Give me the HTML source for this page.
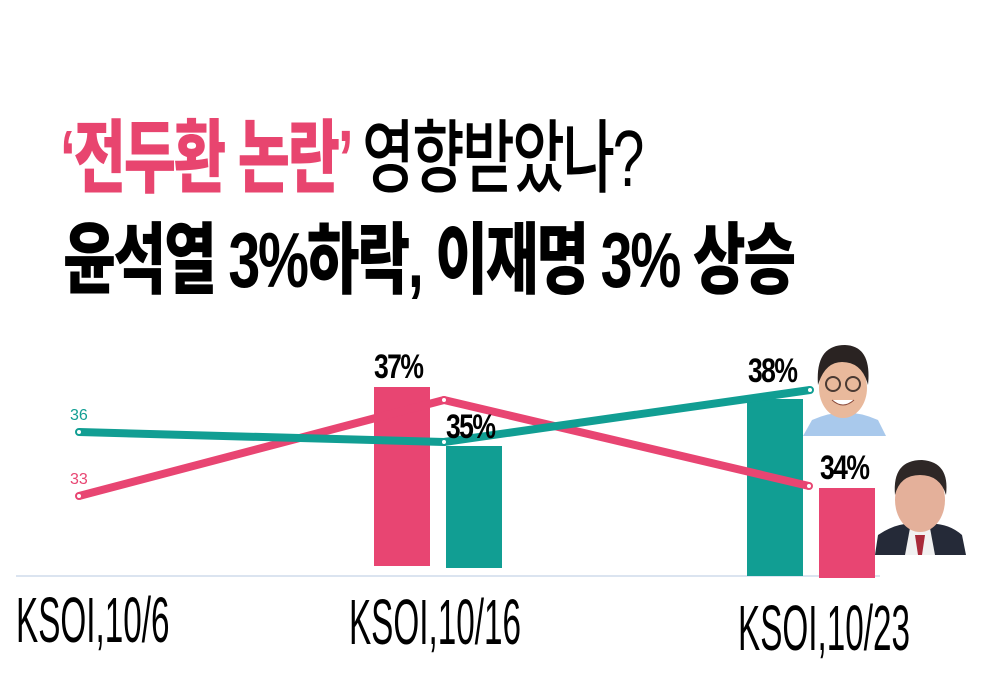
<!DOCTYPE html>
<html><head><meta charset="utf-8"><style>
body{margin:0;width:1000px;height:692px;background:#fff;overflow:hidden;position:relative;font-family:"Liberation Sans","Noto Sans CJK KR",sans-serif}
.t{position:absolute;white-space:nowrap;transform-origin:0 0}
</style></head><body>
<div class="t" style="left:60px;top:94px;font-size:80px;font-weight:900;letter-spacing:-3px;transform:scaleX(0.71)"><span style="color:#e8456f">‘전두환 논란’</span> <span style="font-weight:500">영향받았나?</span></div>
<div class="t" style="left:63px;top:198px;font-size:78px;font-weight:900;letter-spacing:-3px;transform:scaleX(0.735)">윤석열 3%하락, 이재명 3% 상승</div>
<svg width="1000" height="692" style="position:absolute;left:0;top:0">
<line x1="16" y1="576" x2="880" y2="576" stroke="#dbe4f0" stroke-width="2"/>
<rect x="374" y="387" width="56" height="179" fill="#e84572"/>
<rect x="446" y="446" width="56" height="122" fill="#119e93"/>
<rect x="747" y="399" width="56" height="177" fill="#119e93"/>
<rect x="819" y="488" width="56" height="90" fill="#e84572"/>
<polyline points="79,496 444,400 809,486" fill="none" stroke="#e84572" stroke-width="8" stroke-linejoin="round"/>
<polyline points="79,432 444,442 810,390" fill="none" stroke="#119e93" stroke-width="8" stroke-linejoin="round"/>
<g fill="#fff" stroke-width="2"><circle cx="79" cy="496" r="3" stroke="#e84572"/><circle cx="444" cy="400" r="3" stroke="#e84572"/><circle cx="809" cy="486" r="3" stroke="#e84572"/>
<circle cx="79" cy="432" r="3" stroke="#119e93"/><circle cx="444" cy="442" r="3" stroke="#119e93"/><circle cx="810" cy="390" r="3" stroke="#119e93"/></g>
<text x="70" y="420" font-size="16" fill="#119e93" font-family="Liberation Sans">36</text>
<text x="70" y="484" font-size="16" fill="#e84572" font-family="Liberation Sans">33</text>
<g font-family="Liberation Sans" font-weight="bold" font-size="34" letter-spacing="-2">
<text x="374" y="378" transform="translate(374 0) scale(0.78 1) translate(-374 0)">37%</text>
<text x="446" y="438" transform="translate(446 0) scale(0.78 1) translate(-446 0)">35%</text>
<text x="748" y="382" transform="translate(748 0) scale(0.78 1) translate(-748 0)">38%</text>
<text x="820" y="479" transform="translate(820 0) scale(0.78 1) translate(-820 0)">34%</text>
</g>
<g font-family="Liberation Sans" font-size="64">
<text x="16" y="642" transform="translate(16 0) scale(0.52 1) translate(-16 0)">KSOI,10/6</text>
<text x="349" y="644" transform="translate(349 0) scale(0.52 1) translate(-349 0)">KSOI,10/16</text>
<text x="738" y="650" transform="translate(738 0) scale(0.52 1) translate(-738 0)">KSOI,10/23</text>
</g>
<path d="M803 436 L812 420 Q845 405 878 420 L886 436 Z" fill="#a9c9ec"/>
<ellipse cx="843" cy="388" rx="24" ry="30" fill="#e9b99c"/>
<path d="M818 385 Q815 345 845 345 Q872 346 868 385 Q862 362 842 362 Q825 362 818 385Z" fill="#2a2322"/>
<circle cx="833" cy="384" r="7" fill="none" stroke="#4a3a33" stroke-width="2"/>
<circle cx="853" cy="384" r="7" fill="none" stroke="#4a3a33" stroke-width="2"/>
<path d="M832 400 Q843 410 854 400" fill="#fff" stroke="#8a4a3a"/>
<path d="M875 555 L878 535 Q900 520 920 525 Q945 520 962 535 L966 555 Z" fill="#252a38"/>
<path d="M905 555 L910 528 L930 528 L935 555Z" fill="#f1f1f1"/>
<path d="M915 535 L925 535 L922 555 L918 555Z" fill="#a82a3a"/>
<ellipse cx="920" cy="500" rx="25" ry="32" fill="#e4b09a"/>
<path d="M895 495 Q892 460 922 460 Q950 462 946 495 Q940 475 920 475 Q900 475 895 495Z" fill="#2e2726"/>
</svg>
</body></html>
